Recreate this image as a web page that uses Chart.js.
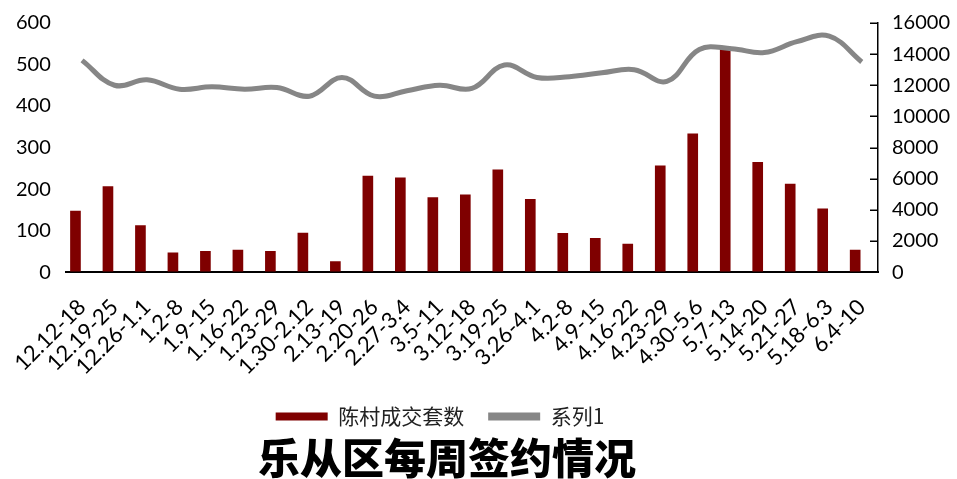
<!DOCTYPE html>
<html>
<head>
<meta charset="utf-8">
<script src="https://cdn.jsdelivr.net/npm/chart.js@4.4.1/dist/chart.umd.min.js"></script>
<style>
  html, body { margin: 0; padding: 0; background: #fff; }
  #wrap { width: 957px; height: 479px; }
</style>
</head>
<body>
<div id="wrap"><canvas id="weeklyChart"></canvas></div>
<script>
// weekly labels, as printed under the axis
const weeks = ['12.12-18', '12.19-25', '12.26-1.1', '1.2-8', '1.9-15', '1.16-22', '1.23-29', '1.30-2.12',
    '2.13-19', '2.20-26', '2.27-3.4', '3.5-11', '3.12-18', '3.19-25', '3.26-4.1', '4.2-8', '4.9-15',
    '4.16-22', '4.23-29', '4.30-5.6', '5.7-13', '5.14-20', '5.21-27', '5.18-6.3', '6.4-10'];

// 陈村成交套数 (left axis)
const chencunDeals = [148, 207, 113, 47, 51, 54, 51, 95, 26, 232, 228, 180, 187, 247, 176,
    94, 82, 68, 257, 334, 543, 265, 213, 153, 54];

// 系列1 (right axis)
const series1 = [13600, 12000, 12350, 11750, 11900, 11750, 11850, 11300, 12500, 11300, 11650, 12000,
    11800, 13300, 12500, 12550, 12800, 13000, 12250, 14300, 14350, 14100, 14800, 15150, 13500];

const leftTicks = [0, 100, 200, 300, 400, 500, 600];
const rightTicks = [0, 2000, 4000, 6000, 8000, 10000, 12000, 14000, 16000];

const tickFont = 'Lato, sans-serif';
const cjkFont = '"Noto Sans CJK SC", sans-serif';
const hidden = 'rgba(0,0,0,0)';

// legend and title sit a bit left of the canvas centre in the original
const shiftBottom = {
    id: 'shiftBottom',
    afterLayout(chart, args, opts) {
        if (chart.legend) {
            chart.legend.left += opts.legend;
            chart.legend.right += opts.legend;
        }
        if (chart.titleBlock) {
            chart.titleBlock.left += opts.title;
            chart.titleBlock.right += opts.title;
        }
    }
};

// short tick marks pointing into the plot on the right axis
const innerTicks = {
    id: 'innerTicks',
    afterDraw(chart) {
        const s = chart.scales.y1;
        const c = chart.ctx;
        c.save();
        c.strokeStyle = '#000';
        c.lineWidth = 1.5;
        s.ticks.forEach(t => {
            const y = Math.round(s.getPixelForValue(t.value)) + 0.25;
            c.beginPath();
            c.moveTo(s.left, y);
            c.lineTo(s.left - 8, y);
            c.stroke();
        });
        c.restore();
    }
};

document.addEventListener('DOMContentLoaded', function() {
    const ctx = document.querySelector('#weeklyChart').getContext('2d');
    const weeklyChart = new Chart(ctx, {
        data: {
            labels: weeks,
            datasets: [
                {
                    type: 'line',
                    label: '系列1',
                    data: series1,
                    yAxisID: 'y1',
                    borderColor: '#868686',
                    backgroundColor: '#868686',
                    borderWidth: 5,
                    tension: 0.4,
                    pointRadius: 0,
                    order: 0
                },
                {
                    type: 'bar',
                    label: '陈村成交套数',
                    data: chencunDeals,
                    yAxisID: 'y',
                    backgroundColor: '#7f0000',
                    categoryPercentage: 0.81,
                    barPercentage: 0.81,
                    order: 1
                },
                {
                    // empty slot so the bars sit left of centre like the original
                    type: 'bar',
                    label: '',
                    data: [],
                    yAxisID: 'y',
                    categoryPercentage: 0.81,
                    barPercentage: 0.81,
                    order: 2
                }
            ]
        },
        options: {
            responsive: true,
            maintainAspectRatio: false,
            animation: false,
            layout: { padding: { left: 13, right: 4, top: 23, bottom: 0 } },
            scales: {
                x: {
                    grid: { display: true, drawOnChartArea: false, drawTicks: true, tickLength: 20, tickColor: hidden },
                    border: { display: true, color: '#000', width: 2 },
                    ticks: {
                        color: '#000',
                        font: { family: tickFont, size: 22 },
                        minRotation: 45,
                        maxRotation: 45,
                        autoSkip: false,
                        padding: 2
                    }
                },
                y: {
                    position: 'left',
                    min: 0,
                    max: 600,
                    afterBuildTicks(axis) { axis.ticks = leftTicks.map(v => ({ value: v })); },
                    grid: { display: true, drawOnChartArea: false, drawTicks: true, tickLength: 12, tickColor: hidden },
                    border: { display: false },
                    ticks: {
                        color: '#000',
                        font: { family: tickFont, size: 20 },
                        padding: 3
                    }
                },
                y1: {
                    position: 'right',
                    min: 0,
                    max: 16000,
                    afterBuildTicks(axis) { axis.ticks = rightTicks.map(v => ({ value: v })); },
                    grid: { display: true, drawOnChartArea: false, drawTicks: true, tickLength: 11, tickColor: hidden },
                    border: { display: true, color: '#000', width: 1.5 },
                    ticks: {
                        color: '#000',
                        font: { family: tickFont, size: 20 },
                        padding: 3,
                        callback: v => String(v)
                    }
                }
            },
            plugins: {
                legend: {
                    position: 'bottom',
                    labels: {
                        color: '#222',
                        font: { family: cjkFont, size: 21 },
                        boxWidth: 52,
                        boxHeight: 8,
                        padding: 24,
                        filter: item => item.text !== '',
                        generateLabels(chart) {
                            const items = Chart.defaults.plugins.legend.labels.generateLabels(chart);
                            items.forEach(it => { it.lineWidth = 0; });
                            // bar first, then line, as in the original
                            return items.sort((a, b) => b.datasetIndex === 1 ? 1 : -1);
                        }
                    }
                },
                title: {
                    display: true,
                    position: 'bottom',
                    text: '乐从区每周签约情况',
                    color: '#000',
                    font: { family: cjkFont, size: 42, weight: 900, lineHeight: 1.0 },
                    padding: { top: 0, bottom: 0 }
                },
                tooltip: { enabled: false },
                shiftBottom: { legend: -43, title: -36 }
            }
        },
        plugins: [shiftBottom, innerTicks]
    });
});
</script>
</body>
</html>
